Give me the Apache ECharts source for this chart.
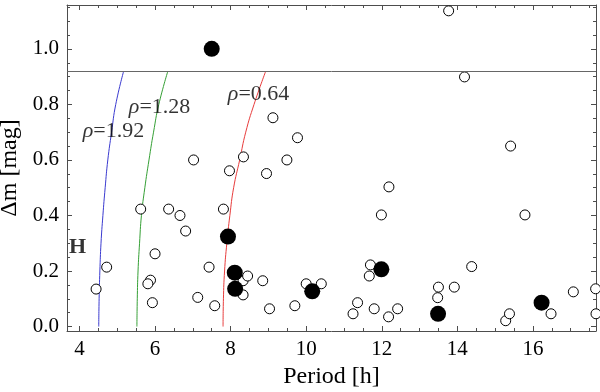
<!DOCTYPE html>
<html>
<head>
<meta charset="utf-8">
<title>Period vs amplitude</title>
<script src="https://cdn.jsdelivr.net/npm/echarts@6.0.0/dist/echarts.min.js"></script>
<style>
  html, body { margin: 0; padding: 0; background: #fff; }
  #chart { width: 600px; height: 392px; }
</style>
</head>
<body>
<div id="chart"></div>
<script>
// open circles: period [h], amplitude [mag]
const openPeriod = [4.44, 4.72, 5.62, 6.36, 6.66, 6.81, 7.81, 6.00, 5.88, 5.81, 5.93, 7.43, 7.13, 7.58,
  8.33, 8.45, 8.33, 8.85, 9.03, 9.70, 7.02, 7.97, 8.34, 8.95, 9.49, 9.12, 9.77, 13.77, 14.19, 15.41,
  12.19, 11.99, 15.79, 11.70, 11.67, 14.38, 10.00, 10.40, 11.36, 11.24, 11.80, 12.18, 12.42, 13.50,
  13.48, 13.92, 15.28, 15.38, 16.48, 17.07, 17.66, 17.67]
const openAmp = [0.135, 0.214, 0.423, 0.423, 0.40, 0.344, 0.423, 0.262, 0.167, 0.154, 0.086, 0.214, 0.105, 0.075,
  0.165, 0.182, 0.114, 0.165, 0.064, 0.075, 0.60, 0.561, 0.611, 0.551, 0.60, 0.752, 0.68, 1.137, 0.899, 0.650,
  0.503, 0.402, 0.402, 0.222, 0.182, 0.216, 0.154, 0.154, 0.086, 0.046, 0.064, 0.035, 0.064, 0.142,
  0.104, 0.142, 0.021, 0.046, 0.046, 0.125, 0.136, 0.046]

// filled circles
const fullPeriod = [7.50, 7.93, 8.11, 8.12, 10.16, 11.99, 13.49, 16.23]
const fullAmp = [1.0, 0.324, 0.194, 0.136, 0.127, 0.206, 0.046, 0.086]

// rho curves
const curveAmp = [0, 0.1, 0.2, 0.3, 0.4, 0.5, 0.6, 0.7, 0.8, 0.92]
const rho192 = [4.51, 4.52, 4.54, 4.57, 4.62, 4.68, 4.75, 4.85, 4.96, 5.17]
const rho128 = [5.52, 5.53, 5.55, 5.59, 5.64, 5.73, 5.84, 5.96, 6.10, 6.34]
const rho064 = [7.80, 7.81, 7.84, 7.90, 7.98, 8.08, 8.24, 8.40, 8.62, 8.93]
const rhoNames = ['1.92', '1.28', '0.64']

const cutoff = 0.92

const xMajor = [4, 6, 8, 10, 12, 14, 16]
const xMinor = [4.5, 5, 5.5, 6.5, 7, 7.5, 8.5, 9, 9.5, 10.5, 11, 11.5, 12.5, 13, 13.5, 14.5, 15, 15.5, 16.5, 17, 17.5]
const yMajor = [0, 0.2, 0.4, 0.6, 0.8, 1.0]
const yMinor = [0.05, 0.1, 0.15, 0.25, 0.3, 0.35, 0.45, 0.5, 0.55, 0.65, 0.7, 0.75, 0.85, 0.9, 0.95, 1.05, 1.1, 1.15]

const X_MIN = 3.67, X_MAX = 17.67
const Y_MIN = -0.016, Y_MAX = 1.158

const FONT = "'Liberation Serif', 'Times New Roman', Times, serif"
const FRAME = '#4d4d4d'

const zip = (a, b) => a.map((v, i) => [v, b[i]])

function frameAxis(position, ticks, len, withLine, withLabels, min, max, fmt) {
  return {
    type: 'value',
    position,
    min,
    max,
    axisLine: { show: withLine, onZero: false, lineStyle: { color: FRAME, width: 1 } },
    axisTick: { show: true, inside: true, length: len, customValues: ticks, lineStyle: { color: FRAME, width: 1 } },
    axisLabel: withLabels ? {
      show: true,
      customValues: ticks,
      formatter: fmt,
      fontFamily: FONT,
      fontSize: 21,
      color: '#000',
      margin: 8
    } : { show: false },
    splitLine: { show: false }
  }
}

const chart = echarts.init(document.getElementById('chart'))

const xAxes = [
  frameAxis('bottom', xMajor, 5, true, true, X_MIN, X_MAX, v => String(v)),
  frameAxis('bottom', xMinor, 3, false, false, X_MIN, X_MAX),
  frameAxis('top', xMajor, 5, true, false, X_MIN, X_MAX),
  frameAxis('top', xMinor, 3, false, false, X_MIN, X_MAX)
]
Object.assign(xAxes[0], {
  name: 'Period [h]',
  nameLocation: 'middle',
  nameGap: 33,
  nameTextStyle: { fontFamily: FONT, fontSize: 24, color: '#000' }
})

const yAxes = [
  frameAxis('left', yMajor, 5, true, true, Y_MIN, Y_MAX, v => v.toFixed(1)),
  frameAxis('left', yMinor, 3, false, false, Y_MIN, Y_MAX),
  frameAxis('right', yMajor, 5, true, false, Y_MIN, Y_MAX),
  frameAxis('right', yMinor, 3, false, false, Y_MIN, Y_MAX)
]
Object.assign(yAxes[0], {
  name: 'Δm [mag]',
  nameLocation: 'middle',
  nameGap: 28,
  nameTextStyle: { fontFamily: FONT, fontSize: 24, color: '#000' }
})

const curve = (xs, color) => ({
  type: 'line',
  data: zip(xs, curveAmp),
  smooth: true,
  showSymbol: false,
  symbol: 'none',
  silent: true,
  z: 1,
  lineStyle: { color, width: 1 }
})

chart.setOption({
  animation: false,
  backgroundColor: '#fff',
  grid: { left: 67, right: 4, top: 5, bottom: 61, outerBoundsMode: 'none' },
  xAxis: xAxes,
  yAxis: yAxes,
  series: [
    curve(rho192, '#3a3ad0'),
    curve(rho128, '#35a035'),
    curve(rho064, '#e83c3c'),
    {
      type: 'line',
      data: [],
      silent: true,
      markLine: {
        silent: true,
        symbol: 'none',
        label: { show: false },
        lineStyle: { color: '#666', width: 1, type: 'solid' },
        data: [{ yAxis: cutoff }]
      }
    },
    {
      type: 'scatter',
      data: zip(openPeriod, openAmp),
      symbol: 'circle',
      symbolSize: 10,
      z: 3,
      itemStyle: { color: '#fff', borderColor: '#000', borderWidth: 1, opacity: 1 }
    },
    {
      type: 'scatter',
      data: zip(fullPeriod, fullAmp),
      symbol: 'circle',
      symbolSize: 16,
      z: 4,
      itemStyle: { color: '#000', opacity: 1 }
    },
    {
      // annotations
      type: 'scatter',
      silent: true,
      symbolSize: 1,
      z: 5,
      itemStyle: { color: 'rgba(0,0,0,0)' },
      data: [
        { value: [4.90, 0.705], name: rhoNames[0] },
        { value: [6.12, 0.79], name: rhoNames[1] },
        { value: [8.74, 0.838], name: rhoNames[2] },
        { value: [3.95, 0.287], name: 'H' }
      ],
      label: {
        show: true,
        position: 'inside',
        fontFamily: FONT,
        fontSize: 22,
        color: '#000',
        formatter: p => p.name === 'H' ? '{b|H}' : '{r|ρ}=' + p.name,
        rich: {
          r: { fontFamily: FONT, fontSize: 22, fontStyle: 'italic', color: '#000' },
          b: { fontFamily: FONT, fontSize: 22, fontWeight: 'bold', color: '#000' }
        }
      }
    }
  ]
})
</script>
</body>
</html>
